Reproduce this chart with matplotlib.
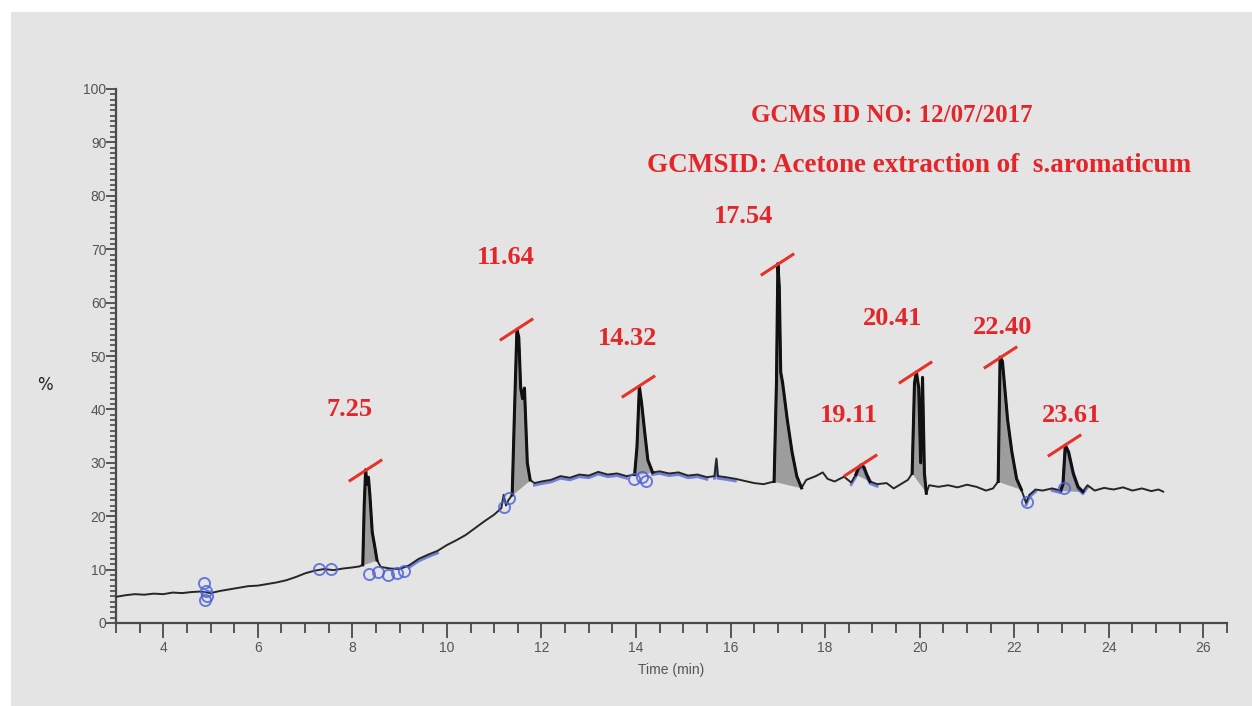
import numpy as np
import matplotlib
matplotlib.use("Agg")
import matplotlib.pyplot as plt
from matplotlib.path import Path
from matplotlib.patches import Rectangle
from matplotlib.ticker import MultipleLocator

# ---------------- data ----------------
time_min = [3.0, 3.2, 3.4, 3.6, 3.8, 4.0, 4.2, 4.4, 4.6, 4.8, 5.0, 5.2, 5.4, 5.6, 5.8,
            6.0, 6.2, 6.4, 6.6, 6.8, 7.0, 7.2, 7.4, 7.6, 7.8, 8.0, 8.15, 8.22,
            8.25, 8.28, 8.31, 8.34, 8.37, 8.42, 8.47, 8.52, 8.6, 8.8, 9.0, 9.2, 9.4,
            9.6, 9.8, 10.0, 10.2, 10.4, 10.6, 10.8, 11.0, 11.15, 11.2, 11.25, 11.3,
            11.38, 11.43, 11.48, 11.52, 11.56, 11.6, 11.64, 11.7, 11.76, 11.85, 12.0,
            12.2, 12.4, 12.6, 12.8, 13.0, 13.2, 13.4, 13.6, 13.8, 13.97, 14.02, 14.07,
            14.12, 14.18, 14.25, 14.35, 14.5, 14.7, 14.9, 15.1, 15.3, 15.5, 15.66,
            15.7, 15.73, 15.9, 16.1, 16.3, 16.5, 16.7, 16.92, 16.97, 17.0, 17.03,
            17.06, 17.1, 17.2, 17.3, 17.4, 17.5, 17.6, 17.8, 17.95, 18.05, 18.2,
            18.4, 18.55, 18.65, 18.7, 18.76, 18.82, 18.88, 18.95, 19.1, 19.3, 19.45,
            19.6, 19.75, 19.84, 19.89, 19.93, 19.98, 20.02, 20.06, 20.1, 20.14, 20.2,
            20.4, 20.6, 20.8, 21.0, 21.2, 21.4, 21.55, 21.66, 21.7, 21.75, 21.8,
            21.86, 21.95, 22.05, 22.15, 22.25, 22.32, 22.45, 22.6, 22.8, 22.98,
            23.03, 23.08, 23.15, 23.25, 23.35, 23.45, 23.55, 23.7, 23.9, 24.1, 24.3,
            24.5, 24.7, 24.9, 25.05, 25.15]
intensity = [4.9, 5.2, 5.4, 5.3, 5.5, 5.4, 5.7, 5.6, 5.8, 5.9, 5.6, 6.0, 6.3, 6.6, 6.9,
             7.0, 7.3, 7.6, 8.0, 8.6, 9.3, 9.8, 10.1, 9.9, 10.2, 10.4, 10.6, 10.9,
             22.0, 28.7, 26.0, 27.3, 24.0, 17.0, 14.5, 11.8, 10.5, 10.2, 10.1, 10.8,
             12.0, 12.8, 13.5, 14.6, 15.5, 16.5, 17.8, 19.1, 20.3, 21.5, 24.0, 22.0,
             23.0, 24.0, 40.0, 55.0, 53.5, 44.0, 42.0, 44.0, 30.0, 26.8, 26.2, 26.5,
             26.8, 27.5, 27.2, 27.8, 27.6, 28.3, 27.8, 28.0, 27.5, 27.8, 33.0, 44.3,
             41.0, 36.0, 30.5, 28.2, 28.4, 28.0, 28.2, 27.6, 27.8, 27.3, 27.5,
             30.8, 27.5, 27.3, 27.0, 26.6, 26.2, 26.0, 26.5, 45.0, 67.3, 63.0,
             47.0, 45.0, 38.0, 32.0, 27.5, 25.3, 26.8, 27.5, 28.2, 27.0, 26.5,
             27.4, 26.3, 27.8, 29.0, 29.6, 29.2, 27.8, 26.5, 26.0, 26.2, 25.2,
             26.0, 26.8, 28.0, 45.0, 47.0, 44.0, 30.0, 46.0, 28.0, 24.3, 25.8,
             25.5, 25.8, 25.4, 25.9, 25.5, 24.8, 25.2, 26.5, 49.8, 49.0, 44.0,
             38.0, 32.0, 27.0, 25.0, 22.5, 24.0, 25.0, 24.8, 25.2, 24.8,
             26.0, 33.3, 32.0, 28.0, 25.5, 24.6, 25.8, 24.8, 25.3, 25.0, 25.4,
             24.8, 25.2, 24.7, 25.0, 24.6]

peak_labels = ["7.25", "11.64", "14.32", "17.54", "19.11", "20.41", "22.40", "23.61"]
peak_rt = [8.26, 11.46, 14.05, 16.98, 18.74, 19.91, 21.7, 23.06]
peak_top = [28.7, 55.0, 44.3, 67.3, 29.6, 47.0, 49.8, 33.3]
peak_start = [8.22, 11.38, 13.97, 16.92, 18.6, 19.84, 21.62, 22.98]
peak_end = [8.52, 11.76, 14.35, 17.5, 18.95, 20.14, 22.15, 23.45]
label_x = [7.93, 11.24, 13.83, 16.27, 18.50, 19.42, 21.75, 23.22]
label_y = [39.9, 68.5, 53.3, 76.2, 38.9, 57.1, 55.4, 38.9]

# blue baseline-integration markers
marker_t = [4.86, 4.9, 4.88, 4.93, 7.3, 7.55, 8.35, 8.55, 8.75, 8.95, 9.1,
            11.2, 11.32, 13.95, 14.12, 14.22, 22.27, 23.05]
marker_y = [7.4, 5.9, 4.3, 5.1, 10.2, 10.1, 9.2, 9.5, 9.0, 9.4, 9.8,
            21.8, 23.5, 27.0, 27.4, 26.6, 22.6, 25.2]
blue_windows = [(9.2, 9.8), (11.8, 13.9), (14.3, 15.5), (15.6, 16.2),
                (18.5, 19.1), (22.2, 22.45), (22.8, 23.6)]

title_lines = ["GCMS ID NO: 12/07/2017",
               "GCMSID: Acetone extraction of  s.aromaticum"]
title_x = [19.42, 19.99]
title_y = [95.1, 85.6]
title_size = [18, 19.5]

# ---------------- figure ----------------
W, H = 1252, 706
fig = plt.figure(figsize=(W / 100, H / 100), dpi=100)
fig.patch.set_facecolor("white")
fig.patches.append(Rectangle((11 / W, 0), 1 - 11 / W, 1 - 12 / H,
                             transform=fig.transFigure, facecolor="#e4e4e4",
                             edgecolor="none", zorder=-10))

ax = fig.add_axes([116 / W, 1 - 623 / H, (1227 - 116) / W, (623 - 89) / H])
ax.set_facecolor("none")

t = np.array(time_min)
y = np.array(intensity)

# shaded peak areas
for s, e in zip(peak_start, peak_end):
    m = (t >= s) & (t <= e)
    tt, yy = t[m], y[m]
    base = np.interp(tt, [tt[0], tt[-1]], [yy[0], yy[-1]])
    ax.fill_between(tt, base, yy, color="#8c8c8c", alpha=0.8, lw=0, zorder=2)

# blue baseline traces
for s, e in blue_windows:
    m = (t >= s) & (t <= e)
    ax.plot(t[m], y[m] - 0.4, color="#4a5fd8", lw=2.0, alpha=0.75, zorder=3)

ax.plot(t, y, color="#262626", lw=1.4, zorder=4)
# heavier outline on the peaks
for s, e in zip(peak_start, peak_end):
    m = (t >= s) & (t <= e)
    ax.plot(t[m], y[m], color="#111111", lw=2.2, zorder=4)

ax.plot(marker_t, marker_y, ls="none", marker="o", ms=8, mfc="none",
        mec="#4a5fd8", mew=1.4, alpha=0.8, zorder=5)

# red peak ticks
seg = Path([(-1.0, -0.65), (1.0, 0.65)], [Path.MOVETO, Path.LINETO])
ax.plot(peak_rt, peak_top, ls="none", marker=seg, ms=24, mec="#e5332a",
        mew=2.2, zorder=6)

red_font = dict(family="Liberation Serif", weight="bold", color="#e3262a")
for lab, lx, ly in zip(peak_labels, label_x, label_y):
    ax.text(lx, ly, lab, ha="center", va="center", fontsize=19, **red_font)
for txt, tx, ty, fs in zip(title_lines, title_x, title_y, title_size):
    ax.text(tx, ty, txt, ha="center", va="center", fontsize=fs, **red_font)

ax.set_xlim(3, 26.5)
ax.set_ylim(0, 100)
ax.xaxis.set_major_locator(MultipleLocator(2))
ax.xaxis.set_minor_locator(MultipleLocator(0.5))
ax.yaxis.set_major_locator(MultipleLocator(10))
ax.yaxis.set_minor_locator(MultipleLocator(1))
for sp in ["top", "right"]:
    ax.spines[sp].set_visible(False)
for sp in ["left", "bottom"]:
    ax.spines[sp].set_color("#4a4a4a")
    ax.spines[sp].set_linewidth(1.6)
tick_font = ["Liberation Sans Narrow", "Liberation Sans", "DejaVu Sans"]
ax.tick_params(axis="x", which="major", length=11, width=1.3, color="#4a4a4a",
               labelsize=10, labelcolor="#555555", pad=2)
ax.tick_params(axis="x", which="minor", length=7, width=1.3, color="#4a4a4a")
ax.tick_params(axis="y", which="major", length=7, width=1.3, color="#4a4a4a",
               labelsize=10, labelcolor="#555555", pad=0)
ax.tick_params(axis="y", which="minor", length=4.5, width=1.2, color="#4a4a4a")
for lab in ax.get_xticklabels() + ax.get_yticklabels():
    lab.set_family(tick_font)

ax.set_xlabel("Time (min)", fontsize=10, color="#555555", family=tick_font,
              labelpad=6)
fig.text(45 / W, 1 - 385 / H, "%", fontsize=12, color="#222222",
         ha="center", va="center")

fig.savefig("out.png", dpi=100)
